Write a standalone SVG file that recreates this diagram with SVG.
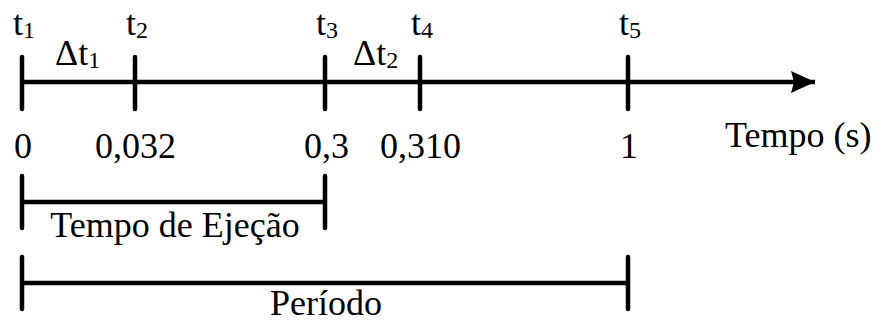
<svg xmlns="http://www.w3.org/2000/svg" width="878" height="325" viewBox="0 0 878 325">
<style>
.ln{stroke:#000;stroke-width:4.5;stroke-linecap:round;fill:none}
.ax{stroke:#000;stroke-width:4.5;fill:none}
text{font-family:"Liberation Serif","Times New Roman",serif;font-size:36px;fill:#000}
.sub{font-size:24px}
</style>
<defs>
<marker id="ah" markerUnits="userSpaceOnUse" markerWidth="26" markerHeight="24" refX="24" refY="11" orient="auto">
<path d="M0,0 L24,11 L0,22 L3,11 Z" fill="#000"/>
</marker>
</defs>
<g id="connectors">
<line class="ax" x1="22" y1="82" x2="815" y2="82" marker-end="url(#ah)"/>
<line class="ax" x1="22" y1="202" x2="325" y2="202"/>
<line class="ax" x1="22" y1="283" x2="628" y2="283"/>
</g>
<g id="tick-t1"><line class="ln" x1="22" y1="57" x2="22" y2="109"/><text x="13" y="35">t<tspan class="sub" dy="3">1</tspan></text><text x="14" y="158">0</text></g>
<g id="tick-t2"><line class="ln" x1="135" y1="57" x2="135" y2="109"/><text x="126" y="35">t<tspan class="sub" dy="3">2</tspan></text><text x="95" y="158">0,032</text></g>
<g id="tick-t3"><line class="ln" x1="325" y1="57" x2="325" y2="109"/><text x="316" y="35">t<tspan class="sub" dy="3">3</tspan></text><text x="304" y="158">0,3</text></g>
<g id="tick-t4"><line class="ln" x1="420" y1="57" x2="420" y2="109"/><text x="411" y="35">t<tspan class="sub" dy="3">4</tspan></text><text x="380" y="158">0,310</text></g>
<g id="tick-t5"><line class="ln" x1="628" y1="57" x2="628" y2="109"/><text x="619" y="35">t<tspan class="sub" dy="3">5</tspan></text><text x="620" y="158">1</text></g>
<g id="delta1"><text x="55" y="65">Δt<tspan class="sub" dy="3">1</tspan></text></g>
<g id="delta2"><text x="353" y="65">Δt<tspan class="sub" dy="3">2</tspan></text></g>
<g id="axis-label"><text x="725" y="147">Tempo (s)</text></g>
<g id="ejecao"><line class="ln" x1="22" y1="176" x2="22" y2="228"/><line class="ln" x1="325" y1="176" x2="325" y2="228"/><text x="175" y="237" text-anchor="middle">Tempo de Ejeção</text></g>
<g id="periodo"><line class="ln" x1="22" y1="257" x2="22" y2="309"/><line class="ln" x1="628" y1="257" x2="628" y2="309"/><text x="326" y="315" text-anchor="middle">Período</text></g>
</svg>
